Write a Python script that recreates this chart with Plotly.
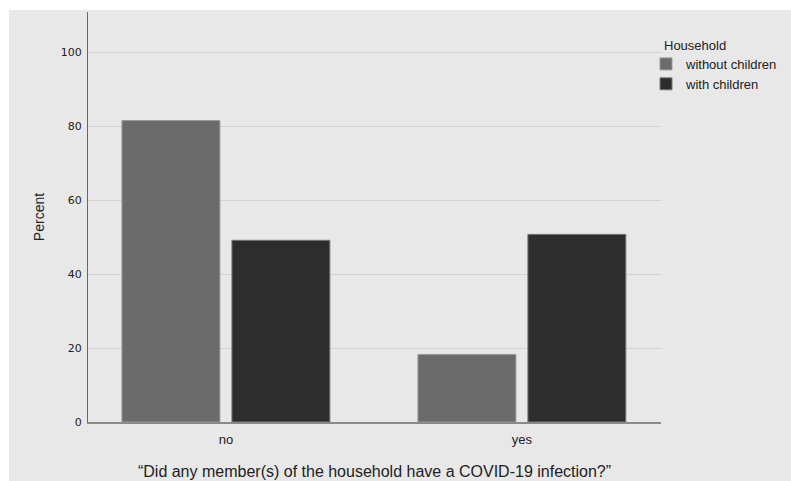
import plotly.graph_objects as go

categories = ["no", "yes"]
without_children = [81.6, 18.3]
with_children = [49.2, 50.8]
series_names = ["without children", "with children"]
legend_title = "Household"
x_title = "\u201cDid any member(s) of the household have a COVID-19 infection?\u201d"
y_title = "Percent"
y_ticks = [0, 20, 40, 60, 80, 100]

W, H = 791, 481
L, T = 88, 12
R = W - 661
B = H - 422.5
pw = W - L - R
ph = H - T - B

def px_x(p):
    return (p - L) / pw

def px_y(p):
    return (H - B - p) / ph

fig = go.Figure()
fig.add_trace(go.Bar(x=categories, y=without_children, name=series_names[0],
                     marker=dict(color="#6b6b6b", line=dict(color="#9a9a9a", width=1))))
fig.add_trace(go.Bar(x=categories, y=with_children, name=series_names[1],
                     marker=dict(color="#2d2d2d", line=dict(color="#7a7a7a", width=1))))

fig.add_shape(type="rect", xref="paper", yref="paper",
              x0=px_x(9), x1=px_x(800), y0=px_y(490), y1=px_y(10),
              fillcolor="#e8e8e8", line=dict(width=0), layer="below")

fig.add_annotation(text=legend_title, xref="paper", yref="paper",
                   x=px_x(662), y=px_y(46), xanchor="left", yanchor="middle",
                   showarrow=False, font=dict(family="Liberation Sans", size=13, color="#222"))

fig.update_layout(
    width=W, height=H, autosize=False,
    margin=dict(l=L, r=R, t=T, b=B, pad=0, autoexpand=False),
    paper_bgcolor="white",
    plot_bgcolor="#e8e8e8",
    barmode="group",
    bargap=0.257,
    bargroupgap=0.109,
    font=dict(family="Liberation Sans, Arial", color="#222"),
    showlegend=True,
    legend=dict(
        font=dict(size=13, family="Liberation Sans", color="#222"),
        x=px_x(646), xanchor="left", y=px_y(49), yanchor="top",
        bgcolor="rgba(0,0,0,0)", itemwidth=30, tracegroupgap=0,
    ),
    xaxis=dict(
        range=[-0.466, 1.47], automargin=False,
        showline=True, linecolor="#8a8a8a", linewidth=2,
        ticks="", showgrid=False, ticklabelstandoff=4,
        tickfont=dict(family="Liberation Sans", size=13, color="#222"),
        title=dict(text=x_title,
                   font=dict(family="Liberation Sans", size=16, color="#222"), standoff=20),
    ),
    yaxis=dict(
        range=[0, 111], automargin=False,
        tickvals=y_ticks,
        showline=True, linecolor="#666", linewidth=1,
        showgrid=True, gridcolor="#d2d2d2", gridwidth=1,
        zeroline=False,
        ticks="", ticklabelstandoff=3,
        tickfont=dict(family="DejaVu Sans", size=11, color="#222"),
        title=dict(text=y_title, font=dict(family="Liberation Sans", size=14, color="#222"), standoff=12),
    ),
)

post = (
    "document.documentElement.style.margin='0px';"
    "document.documentElement.style.overflow='hidden';"
    "document.body.style.margin='0px';"
    "document.body.style.overflow='hidden';"
    "var gd=document.getElementById('{plot_id}');"
    "gd.style.width='%dpx';gd.style.height='%dpx';"
    "Plotly.relayout(gd,{width:%d,height:%d});" % (W, H, W, H)
)

fig.write_html("out.html", post_script=post,
               config={"displayModeBar": False, "responsive": False})
